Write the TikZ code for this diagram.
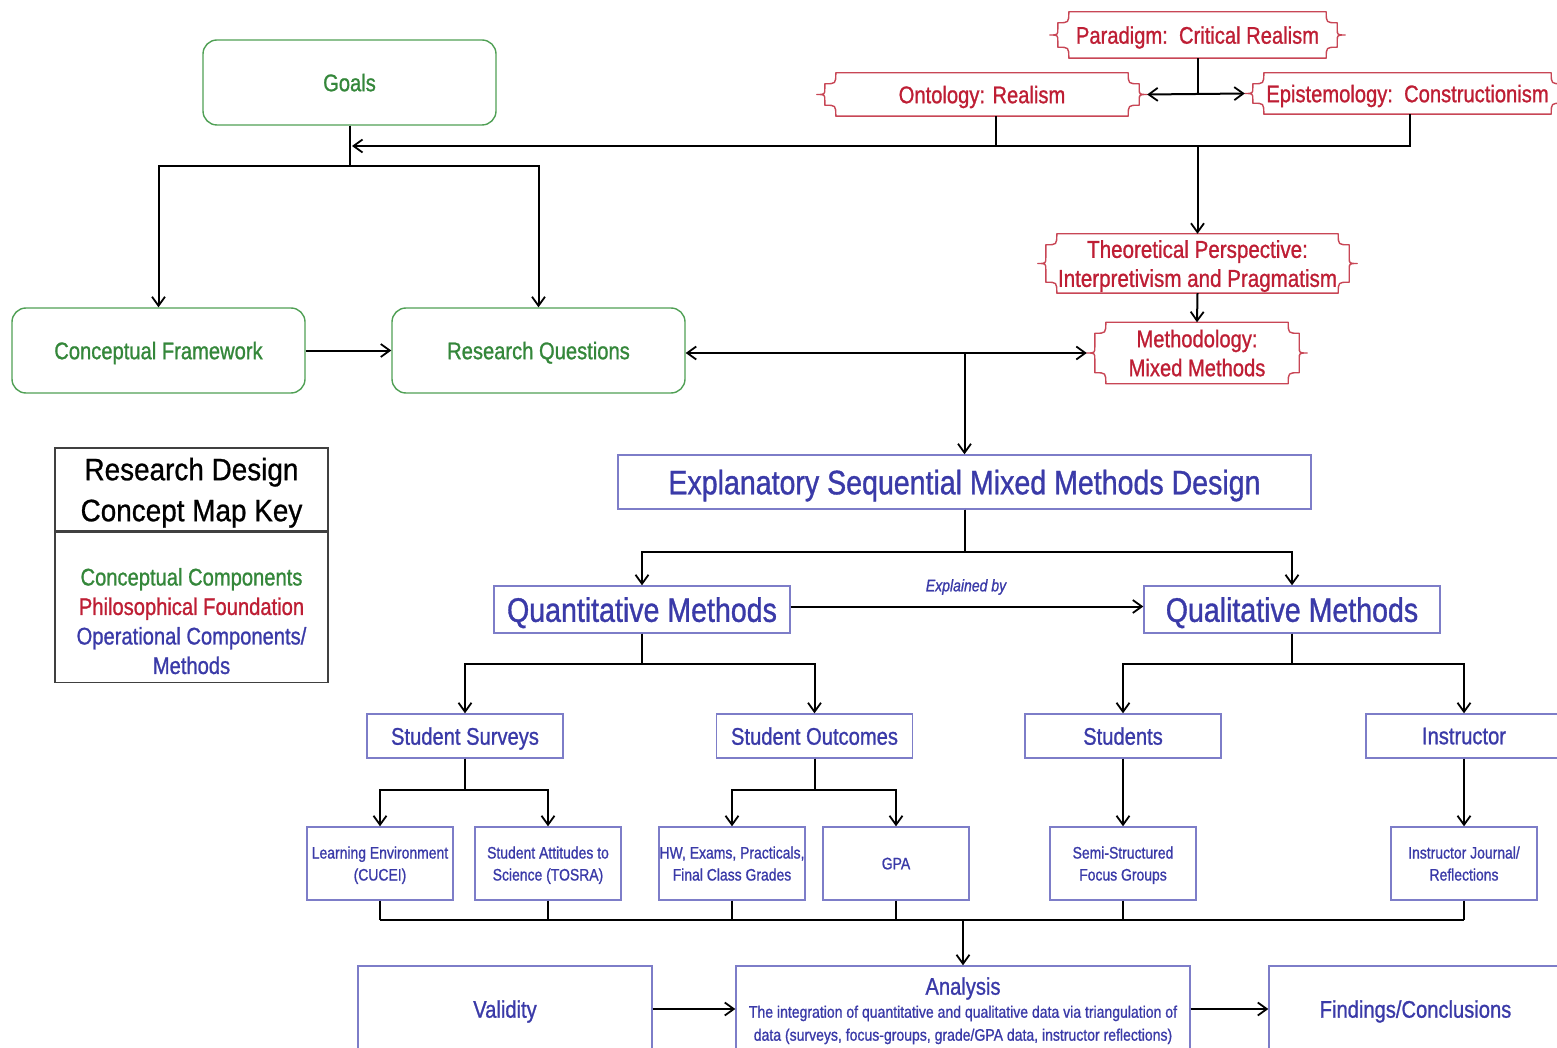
\documentclass[tikz,border=0pt]{standalone}
\usepackage{fontspec}
\setmainfont{Liberation Sans}[FakeStretch=0.84,FakeBold=1]
\newfontfamily\keyfont{Liberation Sans}[FakeStretch=0.9,FakeBold=0.8]
\usetikzlibrary{arrows.meta,calc,positioning}
\definecolor{cgreen}{RGB}{52,135,58}
\definecolor{cgreenb}{RGB}{80,160,85}
\definecolor{cred}{RGB}{190,30,52}
\definecolor{credb}{RGB}{200,70,85}
\definecolor{cblue}{RGB}{58,58,168}
\definecolor{cblueb}{RGB}{125,125,200}
\tikzset{
  gbox/.style={draw=cgreenb, line width=1.4pt, rounded corners=14pt, text=cgreen, text depth=0pt,
    font=\fontsize{24}{29}\selectfont, minimum width=293pt, minimum height=85pt},
  philo/.style={text=cred, align=center, font=\fontsize{24}{29}\selectfont, inner sep=0pt, text depth=0pt},
  bbox/.style={draw=cblueb, line width=1.4pt, text=cblue, align=center, text depth=0pt},
  midbox/.style={bbox, font=\fontsize{24}{29}\selectfont, minimum width=196pt, minimum height=44pt},
  smallbox/.style={bbox, font=\fontsize{16.6}{22}\selectfont, inner xsep=0.5pt, minimum width=146pt, minimum height=73pt},
  bigbox/.style={bbox, minimum height=86pt},
  conn/.style={line width=2pt, black},
  arr/.style={conn, -{Straight Barb[length=9pt,width=13pt,line width=1.8pt]}},
  darr/.style={conn, {Straight Barb[length=9pt,width=13pt,line width=1.8pt]}-{Straight Barb[length=9pt,width=13pt,line width=1.8pt]}},
  philine/.style={draw=credb, line width=1.4pt, line join=round}
}
\newcommand{\philoshape}[1]{%
 \draw[philine] let \p1=(#1.north west), \p2=(#1.south east), \p3=(#1.center) in
 ({\x1+11pt},\y1) -- ({\x2-11pt},\y1)
 .. controls ({\x2-11pt},{\y1-11pt}) .. (\x2,{\y1-11pt})
 -- (\x2,{\y3+6pt})
 .. controls (\x2,\y3) .. ({\x2+8pt},\y3)
 .. controls (\x2,\y3) .. (\x2,{\y3-6pt})
 -- (\x2,{\y2+11pt})
 .. controls ({\x2-11pt},{\y2+11pt}) .. ({\x2-11pt},\y2)
 -- ({\x1+11pt},\y2)
 .. controls ({\x1+11pt},{\y2+11pt}) .. (\x1,{\y2+11pt})
 -- (\x1,{\y3-6pt})
 .. controls (\x1,\y3) .. ({\x1-8pt},\y3)
 .. controls (\x1,\y3) .. (\x1,{\y3+6pt})
 -- (\x1,{\y1-11pt})
 .. controls ({\x1+11pt},{\y1-11pt}) .. ({\x1+11pt},\y1) -- cycle;}
\begin{document}
\begin{tikzpicture}[x=1pt,y=-1pt]
\useasboundingbox (0,0) rectangle (1557,1048);
\clip (0,0) rectangle (1557,1048);
\fill[white] (0,0) rectangle (1557,1048);

% conceptual (green)
\node[gbox] (goals) at (349.5,82.5) {Goals};
\node[gbox] (cf) at (158.5,350.5) {Conceptual Framework};
\node[gbox] (rq) at (538.5,350.5) {Research Questions};

% philosophical (red)
\node[philo, minimum width=279pt, minimum height=46pt] (para) at (1197.5,35) {Paradigm:\ \ Critical Realism};
\node[philo, minimum width=314pt, minimum height=43pt] (onto) at (982,94.5) {Ontology: Realism};
\node[philo, minimum width=309pt, minimum height=41pt] (epi) at (1407.5,93.5) {Epistemology:\ \ Constructionism};
\node[philo, minimum width=303pt, minimum height=59pt, font=\fontsize{24.5}{29}\selectfont] (theo) at (1197.5,263.5) {Theoretical Perspective:\\Interpretivism and Pragmatism};
\node[philo, minimum width=204pt, minimum height=61pt] (meth) at (1197,353) {Methodology:\\Mixed Methods};
\philoshape{para}
\philoshape{onto}
\philoshape{epi}
\philoshape{theo}
\philoshape{meth}

% operational (blue)
\node[bbox, font=\fontsize{34}{38}\selectfont, minimum width=693pt, minimum height=54pt] (esm) at (964.5,482) {Explanatory Sequential Mixed Methods Design};
\node[bbox, font=\fontsize{34}{38}\selectfont, minimum width=296pt, minimum height=47pt] (quant) at (642,609.5) {Quantitative Methods};
\node[bbox, font=\fontsize{34}{38}\selectfont, minimum width=296pt, minimum height=47pt] (qual) at (1292,609.5) {Qualitative Methods};
\node[text=cblue, font=\fontsize{16.7}{19}\selectfont\itshape] (expl) at (966,587) {Explained by};

\node[midbox] (surv) at (465,736) {Student Surveys};
\node[midbox] (outc) at (814.5,736) {Student Outcomes};
\node[midbox] (stud) at (1123,736) {Students};
\node[midbox] (inst) at (1464,736) {Instructor};

\node[smallbox] (le) at (380,863.5) {Learning Environment\\(CUCEI)};
\node[smallbox] (sa) at (548,863.5) {Student Attitudes to\\Science (TOSRA)};
\node[smallbox] (hw) at (732,863.5) {HW, Exams, Practicals,\\Final Class Grades};
\node[smallbox] (gpa) at (896,863.5) {GPA};
\node[smallbox] (ss) at (1123,863.5) {Semi-Structured\\Focus Groups};
\node[smallbox] (ij) at (1464,863.5) {Instructor Journal/\\Reflections};

\node[bigbox, font=\fontsize{24}{29}\selectfont, minimum width=294pt] (val) at (505,1009) {Validity};
\node[bigbox, font=\fontsize{16.7}{23}\selectfont, minimum width=454pt, inner xsep=2pt] (ana) at (963,1009)
  {{\fontsize{24}{26}\selectfont Analysis}\\The integration of quantitative and qualitative data via triangulation of\\data (surveys, focus-groups, grade/GPA data, instructor reflections)};
\node[bigbox, font=\fontsize{24}{29}\selectfont, minimum width=293pt] (find) at (1415.5,1009) {Findings/Conclusions};

% key
\node[draw=black!75, line width=1.4pt, minimum width=273pt, minimum height=83pt, inner sep=0pt,
  align=center, font=\keyfont\fontsize{31}{41}\selectfont, text depth=0pt] (keyt) at (191.5,489.5) {Research Design\\Concept Map Key};
\node[draw=black!75, line width=1.4pt, minimum width=273pt, minimum height=150pt, anchor=north, inner sep=0pt] (keyb) at (keyt.south) {};
\node[align=center, font=\fontsize{24}{29.5}\selectfont, text depth=0pt] (keytext) at (191.5,621)
  {\textcolor{cgreen}{Conceptual Components}\\\textcolor{cred}{Philosophical Foundation}\\\textcolor{cblue}{Operational Components/}\\\textcolor{cblue}{Methods}};

% connectors
\coordinate (gj) at (352,146);
\coordinate (j1) at (1197.5,146);
\draw[arr] (goals.south) -- ++(0,40) -| (cf.north);
\draw[arr] (goals.south) -- ++(0,40) -| (rq.north);
\draw[arr] ([xshift=2.5pt]epi.south) |- (gj);
\draw[conn] ([xshift=14pt]onto.south) -- ([xshift=14pt]onto.south |- gj);
\draw[conn] (para.south) -- (para.south |- onto.east);
\draw[darr] ([xshift=8pt]onto.east) -- ([xshift=-8pt]epi.west);
\draw[arr] (j1) -- (theo.north);
\draw[arr] (theo.south) -- (meth.north);
\draw[arr] (cf.east) -- (rq.west);
\draw[darr] (rq.east |- meth.west) -- ([xshift=-8pt]meth.west);
\draw[arr] (esm.north |- meth.west) -- (esm.north);
\draw[arr] (esm.south) -- ++(0,42) -| (quant.north);
\draw[arr] (esm.south) -- ++(0,42) -| (qual.north);
\draw[arr] ([yshift=3pt]quant.east) -- ([yshift=3pt]qual.west);
\draw[arr] (quant.south) -- ++(0,30) -| (surv.north);
\draw[arr] (quant.south) -- ++(0,30) -| (outc.north);
\draw[arr] (qual.south) -- ++(0,30) -| (stud.north);
\draw[arr] (qual.south) -- ++(0,30) -| (inst.north);
\draw[arr] (surv.south) -- ++(0,31) -| (le.north);
\draw[arr] (surv.south) -- ++(0,31) -| (sa.north);
\draw[arr] (outc.south) -- ++(0,31) -| (hw.north);
\draw[arr] (outc.south) -- ++(0,31) -| (gpa.north);
\draw[arr] (stud.south) -- (ss.north);
\draw[arr] (inst.south) -- (ij.north);
\coordinate (mj) at (964.5,920);
\foreach \n in {le,sa,hw,gpa,ss,ij} {\draw[conn] (\n.south) -- (\n.south |- mj);}
\draw[conn] (le.south |- mj) -- (ij.south |- mj);
\draw[arr] (ana.north |- mj) -- (ana.north);
\draw[arr] (val.east) -- (ana.west);
\draw[arr] (ana.east) -- (find.west);
\end{tikzpicture}
\end{document}
